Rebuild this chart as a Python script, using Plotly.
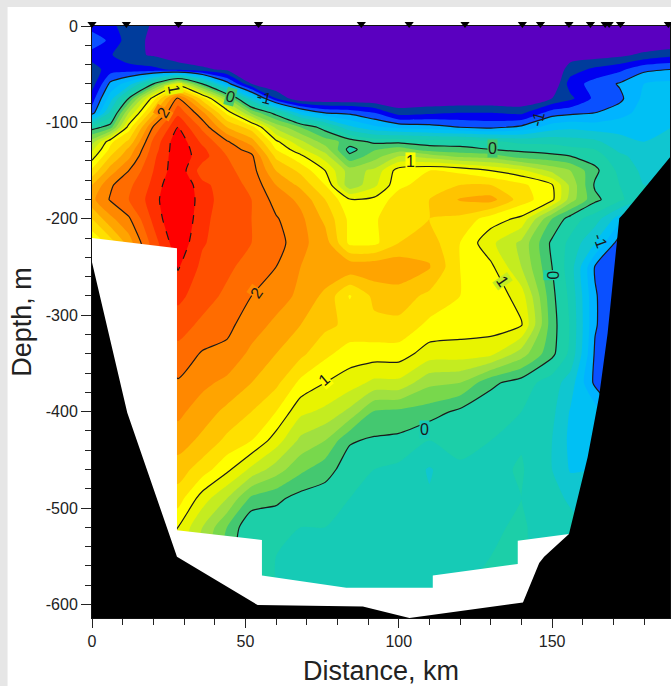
import plotly.graph_objects as go

# Distance (km) of the profile columns, depth (m) of the rows
distance_km = [0, 6, 12, 20, 28, 36, 44, 52, 60, 68, 76, 84, 92, 100, 110, 120, 130, 140, 150, 156, 164, 172, 180, 189]
depth_m = [0, -15, -30, -45, -60, -75, -90, -105, -120, -128, -135, -150, -165, -180, -200, -225, -250, -280, -310,
           -340, -370, -400, -430, -460, -490, -520, -550, -590]

# Temperature, one list per distance column
t_000 = [-1.3, -1.05, -1.3, -1.5, -1.5, -1.3, -1.1, -.1, .5, .75, .9, 1.25, 1.6, 1.75, 1.4, 1.0, 1, 1, 1, 1, 1, 1, 1, 1, 1, 1, 1, 1]
t_006 = [-1.35, -1.25, -1.38, -1.3, -.95, -.7, -.35, .1, 1.15, 1.25, 1.4, 1.7, 1.97, 2.02, 1.75, 1.3, 1.2, 1.2, 1.2, 1.2, 1.2, 1.2, 1.2, 1.2, 1.2, 1.2, 1.2, 1.2]
t_012 = [-1.5, -1.5, -1.55, -1.3, -.7, 0, .6, 1.1, 1.45, 1.65, 1.75, 2.0, 2.15, 2.2, 1.97, 1.7, 1.5, 1.5, 1.5, 1.5, 1.5, 1.5, 1.4, 1.3, 1.2, 1.1, 1.0, 1.0]
t_020 = [-1.62, -1.65, -1.62, -1.35, 0, 1.1, 1.55, 2.03, 2.25, 2.3, 2.35, 2.4, 2.45, 2.5, 2.45, 2.3, 2.2, 2.1, 2.0, 1.9, 1.8, 1.7, 1.6, 1.4, 1.3, 1.1, 1.0, 1.0]
t_028 = [-1.8, -1.8, -1.75, -1.45, .85, 2.05, 2.35, 2.6, 2.75, 2.75, 2.75, 2.75, 2.85, 2.9, 2.85, 2.75, 2.62, 2.45, 2.3, 2.12, 1.98, 1.85, 1.7, 1.5, 1.3, 1.0, .9, .8]
t_036 = [-1.8, -1.8, -1.8, -1.55, 0, 1.3, 1.85, 2.15, 2.35, 2.45, 2.48, 2.3, 2.45, 2.47, 2.45, 2.42, 2.35, 2.3, 2.15, 1.98, 1.85, 1.7, 1.55, 1.3, .9, .6, .5, .4]
t_044 = [-1.8, -1.8, -1.8, -1.65, -.9, .4, 1.15, 1.6, 2.03, 2.13, 2.2, 2.25, 2.3, 2.32, 2.3, 2.3, 2.25, 2.15, 2.05, 1.95, 1.75, 1.55, 1.35, 1.05, .6, .2, .1, .05]
t_052 = [-1.8, -1.8, -1.8, -1.8, -1.6, -.55, .35, 1.3, 1.7, 1.9, 2.05, 2.1, 2.15, 2.2, 2.2, 2.2, 2.1, 2.0, 1.9, 1.75, 1.6, 1.4, 1.2, .75, .15, -.2, -.2, -.2]
t_060 = [-1.8, -1.8, -1.8, -1.8, -1.8, -1.4, -.1, .55, 1.05, 1.2, 1.35, 1.6, 1.8, 1.92, 2.02, 2.1, 2.0, 1.9, 1.75, 1.6, 1.45, 1.2, .9, .5, .05, -.15, -.2, -.2]
t_068 = [-1.8, -1.8, -1.8, -1.8, -1.8, -1.8, -.7, .2, .65, .85, 1.05, 1.35, 1.55, 1.75, 1.85, 1.85, 1.8, 1.75, 1.6, 1.45, 1.15, .85, .55, .25, -.08, -.2, -.25, -.25]
t_076 = [-1.8, -1.8, -1.8, -1.8, -1.8, -1.8, -1.0, -.1, .3, .5, .7, 1.0, 1.2, 1.4, 1.55, 1.7, 1.75, 1.55, 1.45, 1.25, 1.0, .75, .4, .08, -.1, -.2, -.25, -.3]
t_084 = [-1.8, -1.8, -1.8, -1.8, -1.8, -1.8, -1.05, -.55, .12, -.08, .05, .5, .45, 1.02, 1.15, 1.15, 1.75, 1.18, 1.35, 1.1, .9, .55, .02, -.1, -.2, -.25, -.25, -.25]
t_092 = [-1.8, -1.8, -1.8, -1.8, -1.8, -1.8, -1.2, -.75, -.05, .18, .3, .65, .75, 1.05, 1.18, 1.15, 1.75, 1.45, 1.35, 1.1, .75, .18, -.03, -.2, -.3, -.3, -.25, -.22]
t_100 = [-1.8, -1.8, -1.8, -1.8, -1.8, -1.8, -1.5, -.85, -.05, .3, .6, 1.1, 1.15, 1.3, 1.3, 1.4, 1.75, 1.5, 1.35, 1.1, .75, .15, -.05, -.25, -.35, -.3, -.25, -.2]
t_110 = [-1.8, -1.8, -1.8, -1.8, -1.8, -1.8, -1.45, -.9, -.1, .1, .5, 1.2, 1.3, 1.4, 1.4, 1.5, 1.62, 1.35, 1.15, .9, .45, .1, -.2, -.42, -.38, -.3, -.25, -.2]
t_120 = [-1.8, -1.8, -1.8, -1.8, -1.8, -1.8, -1.4, -1.0, -.08, .05, .35, 1.15, 1.4, 1.62, 1.35, 1.2, 1.2, 1.2, 1.1, .9, .4, -.05, -.1, -.25, -.3, -.25, -.22, -.2]
t_130 = [-1.8, -1.8, -1.8, -1.8, -1.8, -1.8, -1.4, -1.05, -.15, 0, .3, 1.0, 1.4, 1.68, 1.1, .85, 1.05, 1.15, 1.1, .85, .05, -.15, -.2, -.25, -.25, -.22, -.2, -.2]
t_140 = [-1.8, -1.8, -1.8, -1.8, -1.8, -1.8, -1.45, -.95, -.25, -.05, .1, .85, 1.25, 1.3, .95, .55, .6, .9, 1.02, .5, -.1, -.2, -.22, -.18, -.2, -.18, -.18, -.18]
t_150 = [-1.8, -1.8, -1.8, -1.8, -1.8, -1.6, -1.1, -.7, -.25, -.1, .05, .55, 1.02, 1.05, .2, -.05, 0, .05, .08, .05, -.3, -.35, -.4, -.4, -.3, -.28, -.28, -.28]
t_156 = [-1.8, -1.8, -1.7, -1.5, -1.3, -1.45, -1.05, -.65, -.3, -.15, 0, .4, .55, .5, -.1, -.25, -.3, -.25, -.22, -.25, -.5, -.62, -.65, -.62, -.45, -.3, -.3, -.3]
t_164 = [-1.8, -1.8, -1.7, -1.35, -1.12, -1.15, -1.0, -.7, -.35, -.2, -.1, .05, -.03, .05, -.3, -.6, -1.02, -.98, -.98, -1.03, -1.05, -.7, -.65, -.6, -.5, -.5, -.5, -.5]
t_172 = [-1.8, -1.8, -1.65, -1.25, -.98, -1.05, -.9, -.65, -.55, -.45, -.35, -.25, -.2, -.15, -.7, -1.1, -1.2, -1.2, -1.2, -1.2, -1.2, -1, -.8, -.6, -.5, -.5, -.5, -.5]
t_180 = [-1.8, -1.8, -1.55, -1.05, -.8, -.75, -.7, -.65, -.6, -.55, -.5, -.45, -.4, -.4, -.5, -.6, -.6, -.6, -.6, -.6, -.6, -.6, -.6, -.6, -.5, -.5, -.5, -.5]
t_189 = [-1.8, -1.8, -1.45, -1.0, -.75, -.7, -.65, -.6, -.55, -.5, -.45, -.4, -.4, -.4, -.5, -.6, -.6, -.6, -.6, -.6, -.6, -.6, -.6, -.6, -.5, -.5, -.5, -.5]
columns = [t_000, t_006, t_012, t_020, t_028, t_036, t_044, t_052, t_060, t_068, t_076, t_084, t_092, t_100, t_110,
           t_120, t_130, t_140, t_150, t_156, t_164, t_172, t_180, t_189]
temperature = [[col[i] for col in columns] for i in range(len(depth_m))]

band_colors = ["#5a00c0", "#003c9c", "#0000f0", "#0a50ff", "#00b4ff", "#00c0f4", "#10c6d0", "#16cbb6", "#1ccfa8",
               "#44c870", "#78d84c", "#a0e040", "#c4ec20", "#e8f400",
               "#ffff00", "#ffe000", "#ffc400", "#ffa400", "#ff8800",
               "#ff6c00", "#ff5000", "#ff3000", "#ff0000"]
scale = []
for i, c in enumerate(band_colors):
    scale += [[i / len(band_colors), c], [(i + 1) / len(band_colors), c]]

# Seabed outline
bottom_km = [0, 0, 11.5, 27.7, 54, 88.3, 103.5, 140.5, 145.8, 147.4, 155.5, 161.6, 165.3, 168.1, 171.9, 173.5, 189, 189, 0]
bottom_m = [-614, -245, -401, -550.5, -600.6, -602, -614, -598, -557, -550.5, -527, -447, -384.5, -318.6, -199.5, -194, -134, -614, -614]

# Area without data
blank_km = [0, 27.7, 27.7, 55.4, 55.4, 82.9, 111.1, 111.1, 138.8, 138.8, 155.5, 155.5, 0, 0]
blank_m = [-220, -230.6, -523, -533, -570, -582.7, -582.7, -570, -558, -534, -527, -614, -614, -220]

# Stations
station_km = [0, 11.2, 28.2, 54.3, 87.8, 103.4, 121.6, 140.3, 146.2, 155.5, 162.5, 167.3, 168.6, 172.3, 187.9]
station_m = [2] * len(station_km)

# Isoline labels: text, km, m, angle, background
clear = "rgba(0,0,0,0)"
labels = [("1", 26.7, -66, 80, "#e8f400"), ("2", 23.3, -90, -60, "#ff8800"), ("0", 45, -73, 15, "#44c870"),
          ("-1", 56, -74, 15, clear), ("2", 53.5, -277, -55, "#ff8800"), ("1", 75.8, -367, -40, "#ffff00"),
          ("0", 108.5, -418, 0, "#16cbb6"), ("0", 130.5, -127, 0, "#44c870"), ("1", 103.8, -141, 0, "#ffff00"),
          ("0", 150, -258, 90, "#1ccfa8"), ("1", 133.9, -265, 55, "#c4ec20"), ("-1", 145.3, -97, -75, clear),
          ("-1", 165.8, -222, 70, clear)]

x_ticks = [0, 50, 100, 150]
y_ticks = [0, -100, -200, -300, -400, -500, -600]

L, R, T, B = 91.5, 670, 21, 618
AXIS_TOP = 26
W, H = 671, 686

fig = go.Figure()
fig.add_trace(go.Contour(x=distance_km, y=depth_m, z=temperature, zmin=-1.8, zmax=2.8, colorscale=scale,
                         showscale=False, hoverinfo="skip", line_smoothing=0.6,
                         contours=dict(type="levels", start=-1.6, end=2.6, size=0.2, coloring="fill", showlines=False)))
fig.add_trace(go.Contour(x=distance_km, y=depth_m, z=temperature, showscale=False, hoverinfo="skip",
                         line=dict(color="#1a1a1a", width=1.2, smoothing=0.6),
                         contours=dict(type="levels", start=-1, end=2, size=1, coloring="none")))
fig.add_trace(go.Contour(x=distance_km, y=depth_m, z=temperature, showscale=False, hoverinfo="skip",
                         line=dict(color="#1a1a1a", width=1.2, dash="dash", smoothing=0.6),
                         contours=dict(type="levels", start=2.6, end=2.6, size=1, coloring="none")))
fig.add_trace(go.Scatter(x=blank_km, y=blank_m, mode="lines", fill="toself", fillcolor="white",
                         line=dict(width=0), hoverinfo="skip"))
fig.add_trace(go.Scatter(x=bottom_km, y=bottom_m, mode="lines", fill="toself", fillcolor="black",
                         line=dict(width=0, color="black"), hoverinfo="skip"))
fig.add_trace(go.Scatter(x=station_km, y=station_m, yaxis="y2", mode="markers", cliponaxis=False,
                         marker=dict(symbol="triangle-down", size=8, color="black"), hoverinfo="skip"))

annotations = [dict(x=km, y=m, text=t, textangle=a, showarrow=False, bgcolor=bg, borderpad=0,
                    font=dict(size=16, color="#1a1a1a", family="Liberation Sans"))
               for t, km, m, a, bg in labels]

font = dict(family="Liberation Sans", color="#222222")
fig.update_layout(
    width=W, height=H, margin=dict(l=L, r=W - R, t=T, b=H - B, autoexpand=False),
    paper_bgcolor="#e6e6e6", plot_bgcolor="rgba(0,0,0,0)", showlegend=False, annotations=annotations,
    shapes=[dict(type="rect", xref="paper", yref="paper", layer="below", line_width=0, fillcolor="white",
                 x0=(7 - L) / (R - L), x1=(W - L) / (R - L), y0=(B - H) / (B - T), y1=(B - 7) / (B - T))],
    xaxis=dict(range=[0, (R - L) / 3.07], tickmode="array", tickvals=x_ticks, ticktext=[str(v) for v in x_ticks],
               ticks="outside", ticklen=9, tickcolor="#222", showgrid=False, zeroline=False, showline=True,
               linecolor="#111", linewidth=1, mirror=True, tickfont=dict(size=16, **font),
               minor=dict(tickmode="array", tickvals=list(range(0, 190, 10)), ticks="outside", ticklen=6, tickcolor="#222", showgrid=False),
               title=dict(text="Distance, km", font=dict(size=27, **font), standoff=11)),
    yaxis=dict(range=[-614, 0], domain=[0, (B - AXIS_TOP) / (B - T)], tickmode="array", tickvals=y_ticks,
               ticktext=[str(v) for v in y_ticks],
               ticks="outside", ticklen=10, tickcolor="#222", showgrid=False, zeroline=False, showline=True,
               linecolor="#111", linewidth=1, mirror=True, tickfont=dict(size=16, **font),
               minor=dict(tickmode="array", tickvals=list(range(-600, 1, 20)), ticks="outside", ticklen=6, tickcolor="#222", showgrid=False),
               title=dict(text="Depth, m", font=dict(size=27, **font), standoff=6)),
    yaxis2=dict(range=[-614, (AXIS_TOP - T) / 0.964], domain=[0, 1], visible=False, anchor="x"),
)
fig.write_html("out.html", post_script="document.body.style.margin='0';", config={"displayModeBar": False})
